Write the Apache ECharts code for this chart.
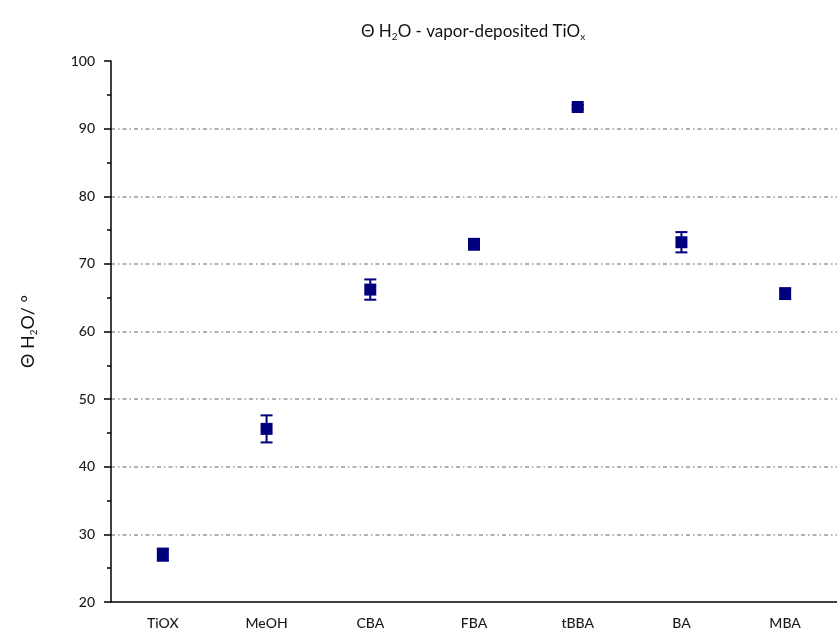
<!DOCTYPE html>
<html lang="en">
<head>
    <meta charset="UTF-8">
    <title>Θ H2O - vapor-deposited TiOx</title>
    <script src="https://cdn.jsdelivr.net/npm/echarts@6/dist/echarts.min.js"></script>
    <style>
        body { margin: 0; background: #fff; }
        #chart { width: 837px; height: 641px; }
    </style>
</head>
<body>
    <div id="chart"></div>
    <script>
        // samples and contact angles (deg)
        const samples = ['TiOX', 'MeOH', 'CBA', 'FBA', 'tBBA', 'BA', 'MBA'];
        const angle = [27.0, 45.6, 66.2, 72.9, 93.2, 73.2, 65.6];
        const angleErr = [0.9, 2.0, 1.5, 0.8, 0.3, 1.5, 0.8];

        const font = 'Lato, "Open Sans", sans-serif';
        const navy = '#00007f';

        const errData = samples.map((s, i) => [i, angle[i] - angleErr[i], angle[i] + angleErr[i]]);

        const chart = echarts.init(document.getElementById('chart'));
        chart.setOption({
            animation: false,
            title: {
                text: 'Θ H{sub|2}O - vapor-deposited TiO{sub|x}',
                left: 468,
                textAlign: 'center',
                top: 16,
                textStyle: {
                    fontFamily: font, fontSize: 17, fontWeight: 'normal', color: '#111',
                    rich: {
                        sub: { fontFamily: font, fontSize: 10, color: '#111', padding: [11, 0, 0, 0] }
                    }
                }
            },
            grid: { left: 111, right: -8, top: 61, bottom: 39 },
            xAxis: [{
                type: 'category',
                data: samples,
                axisLine: { lineStyle: { color: '#000', width: 1.5 } },
                axisTick: { alignWithLabel: true, length: 7, lineStyle: { color: '#000', width: 1.5 } },
                axisLabel: { fontFamily: font, fontSize: 14, fontWeight: 500, color: '#1a1a1a', margin: 14 },
                splitLine: { show: false }
            }, {
                type: 'category',
                data: samples,
                position: 'bottom',
                axisLine: { show: false },
                axisTick: { length: 4, lineStyle: { color: '#000', width: 1.5 } },
                axisLabel: { show: false },
                splitLine: { show: false }
            }],
            yAxis: {
                type: 'value',
                min: 20,
                max: 100,
                interval: 10,
                name: 'Θ H{sub|2}O/ °',
                nameLocation: 'middle',
                nameRotate: 90,
                nameGap: 72,
                nameTextStyle: {
                    fontFamily: font, fontSize: 18, color: '#111',
                    rich: { sub: { fontFamily: font, fontSize: 10, color: '#111', padding: [12, 0, 0, 0] } }
                },
                axisLine: { show: true, lineStyle: { color: '#000', width: 1.5 } },
                axisTick: { show: true, length: 7, lineStyle: { color: '#000', width: 1.5 } },
                minorTick: { show: true, splitNumber: 2, length: 4, lineStyle: { color: '#000', width: 1.5 } },
                axisLabel: { fontFamily: font, fontSize: 14, fontWeight: 500, color: '#1a1a1a', margin: 16 },
                splitLine: {
                    show: true, showMinLine: false, showMaxLine: false,
                    lineStyle: { color: '#999', width: 1.5, type: [4, 3, 1.5, 3] }
                }
            },
            series: [{
                type: 'custom',
                name: 'error',
                data: errData,
                z: 2,
                renderItem: function (params, api) {
                    const lo = api.coord([api.value(0), api.value(1)]);
                    const hi = api.coord([api.value(0), api.value(2)]);
                    const hw = 6;
                    const style = { stroke: navy, lineWidth: 2 };
                    return {
                        type: 'group',
                        children: [
                            { type: 'line', shape: { x1: hi[0], y1: hi[1], x2: lo[0], y2: lo[1] }, style: style },
                            { type: 'line', shape: { x1: hi[0] - hw, y1: hi[1], x2: hi[0] + hw, y2: hi[1] }, style: style },
                            { type: 'line', shape: { x1: lo[0] - hw, y1: lo[1], x2: lo[0] + hw, y2: lo[1] }, style: style }
                        ]
                    };
                }
            }, {
                type: 'scatter',
                name: 'angle',
                data: angle,
                symbol: 'rect',
                symbolSize: 12,
                z: 3,
                itemStyle: { color: navy, opacity: 1 }
            }]
        });
    </script>
</body>
</html>
